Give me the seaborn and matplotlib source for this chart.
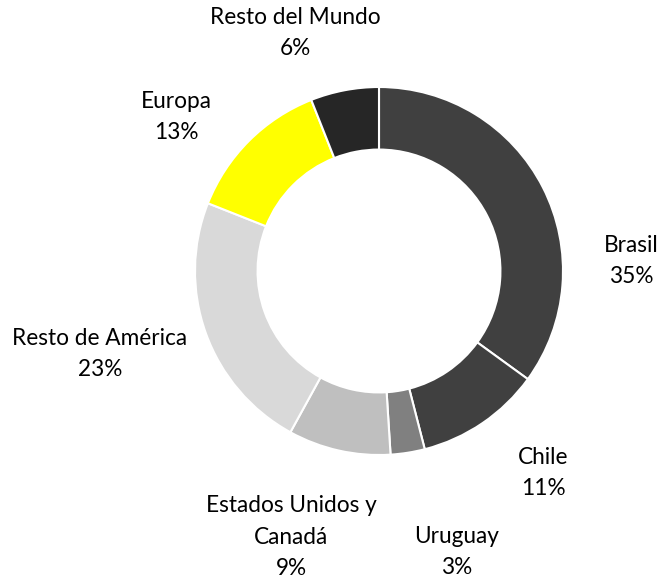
import matplotlib
matplotlib.use("Agg")
import matplotlib.pyplot as plt
import seaborn as sns

regions = ["Brasil", "Chile", "Uruguay", "Estados Unidos y\nCanadá",
           "Resto de América", "Europa", "Resto del Mundo"]
shares = [35, 11, 3, 9, 23, 13, 6]
colors = ["#404040", "#404040", "#808080", "#bfbfbf", "#d9d9d9", "#ffff00", "#262626"]

sns.set_theme(style="white")
plt.rcParams['font.family'] = ['Lato', 'DejaVu Sans']

W, H = 665, 581
fig = plt.figure(figsize=(W / 100, H / 100), dpi=100)
ax = fig.add_axes([0, 0, 1, 1])

cx, cy, r = 379, H - 271, 184
ax.pie(shares, colors=colors, startangle=90, counterclock=False,
       center=(cx, cy), radius=r, frame=True,
       wedgeprops=dict(width=r * 0.34, edgecolor='white', linewidth=1.5))
ax.set_xlim(0, W)
ax.set_ylim(0, H)
ax.set_aspect('equal')
ax.axis('off')

# label anchor positions (pixel coords of the label block centres)
label_pos = [(631, 261), (543, 473), (457, 552), (291, 537),
             (100, 354), (176, 117), (295, 33)]
for name, val, (x, y) in zip(regions, shares, label_pos):
    ax.text(x, H - y, f"{name}\n{val}%", ha='center', va='center',
            fontsize=16.3, color='#000000', linespacing=1.62)

fig.savefig("out.png", dpi=100)
